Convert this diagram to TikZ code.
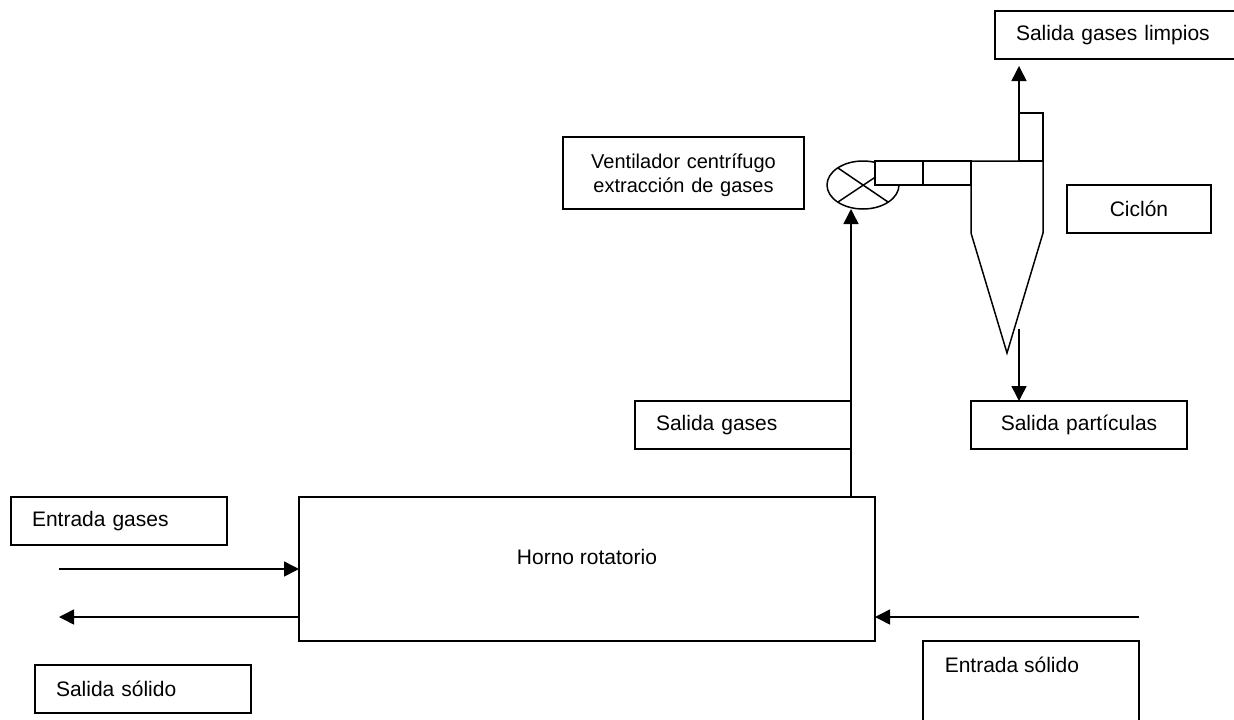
\documentclass[tikz,border=0pt]{standalone}
\usepackage{fontspec}
\setmainfont{Liberation Sans}
\usetikzlibrary{arrows.meta,shapes.geometric}
\tikzset{
  x=1pt,y=-1pt,
  every node/.style={font=\fontsize{21}{24}\selectfont,text=black},
  boxl/.style={draw,rectangle,anchor=north west,outer sep=0pt,minimum height=48pt,inner xsep=21pt,inner ysep=0pt,text width=#1,align=left},
  boxc/.style={draw,rectangle,anchor=north west,outer sep=0pt,minimum height=48pt,inner xsep=0pt,inner ysep=0pt,text width=#1,align=center},
  duct/.style={draw,fill=white,rectangle,anchor=north west,outer sep=0pt,inner sep=0pt,minimum width=48pt,minimum height=24pt},
  flow/.style={-{Triangle[length=15pt,width=15pt]}},
  plain/.style={line width=1.5pt,line cap=butt,line join=miter},
  label text/.style={inner sep=0pt,anchor=base west}
}
\begin{document}
\begin{tikzpicture}[plain]
\useasboundingbox (0,0) rectangle (1234,720);
\clip (0,0) rectangle (1234,720);
\fill[white] (0,0) rectangle (1234,720);

% text boxes
\node[boxl=240pt] (limpios) at (995,11) {Salida gases limpios};
\node[boxc=241pt,minimum height=72pt,font=\fontsize{20}{24.5}\selectfont] (vent) at (563,137) {\rule{0pt}{19pt}Ventilador centrífugo\\extracción de gases};
\node[boxc=144pt] (ciclon) at (1067,185) {Ciclón};
\node[boxl=174pt] (sgases) at (635,401) {Salida gases};
\node[boxc=216pt] (sparticulas) at (971,401) {Salida partículas};
\node[boxl=174pt] (egases) at (11,497) {Entrada gases};
\node[boxl=174pt] (ssolido) at (35,665) {Salida sólido};
\node[draw,rectangle,anchor=north west,outer sep=0pt,minimum width=576pt,minimum height=144pt] (horno) at (299,497) {};
\node[label text,anchor=base] (hornot) at (587,564) {Horno rotatorio};
\node[draw,rectangle,anchor=north west,outer sep=0pt,minimum width=216pt,minimum height=96pt] (esolido) at (923,641) {};
\node[label text] (esolidot) at (944,672) {Entrada sólido};

% fan
\node[draw,ellipse,outer sep=0pt,inner sep=0pt,minimum width=72pt,minimum height=48pt] (fan) at (863,185) {};
\coordinate (fanA) at (838,168);
\coordinate (fanB) at (888,202);
\coordinate (fanC) at (838,202);
\coordinate (fanD) at (880,174);
\draw (fanA) -- (fanB);
\draw (fanC) -- (fanD);

% ducts
\node[duct] (duct1) at (875,161) {};
\node[duct] (duct2) at (923,161) {};

% cyclone
\coordinate (cTL) at (971,161);
\coordinate (cTR) at (1043,161);
\coordinate (cBL) at (971,233);
\coordinate (cBR) at (1043,233);
\coordinate (cTip) at (1007,353);
\draw (cBR) -- (cTip) -- (cBL) -- (cTL) -- (cTR) -- cycle;
\node[draw,rectangle,anchor=north west,outer sep=0pt,inner sep=0pt,minimum width=24pt,minimum height=48pt] (stack) at (1019,113) {};

% flows
\coordinate (limpiosIn) at (1019,66);
\draw[flow] (stack.south west) -- (limpiosIn);
\coordinate (partStart) at (1019,329);
\draw[flow] (partStart) -- (partStart |- sparticulas.north);
\draw[flow] (horno.north -| sgases.east) -- (sgases.east |- fan.south);
\coordinate (gasStart) at (59,569);
\draw[flow] (gasStart) -- (gasStart -| horno.west);
\coordinate (solidEnd) at (59,617);
\draw[flow] (solidEnd -| horno.west) -- (solidEnd);
\coordinate (solidStart) at (1139,617);
\draw[flow] (solidStart) -- (solidStart -| horno.east);
\end{tikzpicture}
\end{document}
